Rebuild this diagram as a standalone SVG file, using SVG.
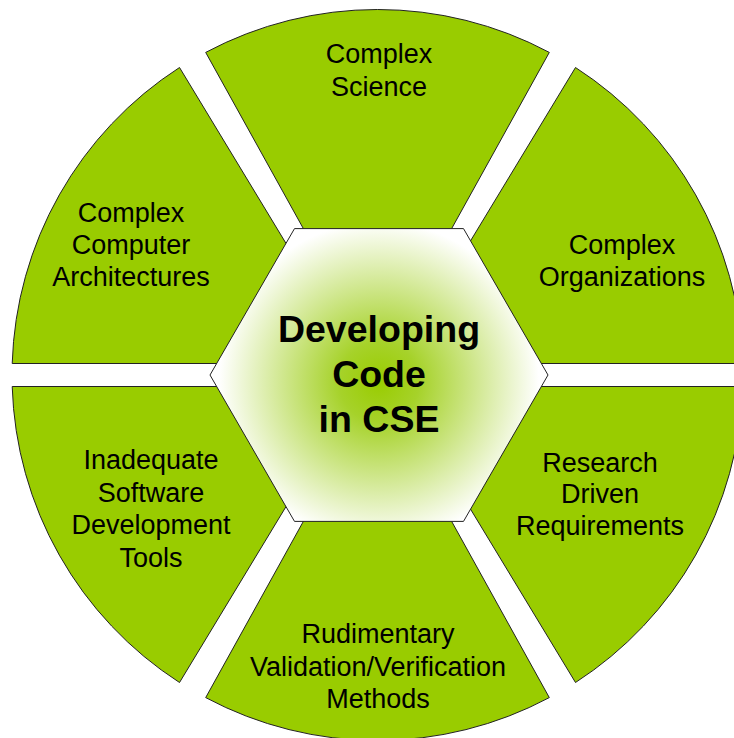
<svg xmlns="http://www.w3.org/2000/svg" width="734" height="738" viewBox="0 0 734 738">
<style>
.seg{fill:#99cc00;stroke:#222;stroke-width:1}
.lbl{font-family:"Liberation Sans",Arial,sans-serif;font-size:27px;fill:#000;text-anchor:middle}
.ctr{font-family:"Liberation Sans",Arial,sans-serif;font-size:37.5px;font-weight:bold;fill:#000;text-anchor:middle}
</style>
<defs>
<radialGradient id="hexGrad" gradientUnits="userSpaceOnUse" cx="379" cy="382" r="160">
<stop offset="0" stop-color="#99cc00"/>
<stop offset="0.25" stop-color="#a6d22a"/>
<stop offset="1" stop-color="#ffffff"/>
</radialGradient>
</defs>
<rect width="734" height="738" fill="#ffffff"/>
<g id="seg-complex-science">
<path class="seg" d="M307.9 236.8 L205.7 52.4 A365.5 365.5 0 0 1 549.3 52.4 L447.1 236.8 Z"/>
<text class="lbl" x="379" y="63">Complex</text>
<text class="lbl" x="379" y="96">Science</text>
</g>
<g id="seg-complex-organizations">
<path class="seg" d="M464.8 250.3 L575.5 67.5 A365.5 365.5 0 0 1 742.8 363.5 L530 363.5 Z"/>
<text class="lbl" x="622" y="253.5">Complex</text>
<text class="lbl" x="622" y="285.5">Organizations</text>
</g>
<g id="seg-research-driven">
<path class="seg" d="M530 386.5 L742.8 386.5 A365.5 365.5 0 0 1 575.5 682.5 L464.8 499.7 Z"/>
<text class="lbl" x="600" y="471.5">Research</text>
<text class="lbl" x="600" y="503">Driven</text>
<text class="lbl" x="600" y="534.5">Requirements</text>
</g>
<g id="seg-rudimentary">
<path class="seg" d="M447.1 513.2 L549.3 697.6 A365.5 365.5 0 0 1 205.7 697.6 L307.9 513.2 Z"/>
<text class="lbl" x="378" y="643">Rudimentary</text>
<text class="lbl" x="378" y="676">Validation/Verification</text>
<text class="lbl" x="378" y="708">Methods</text>
</g>
<g id="seg-inadequate-tools">
<path class="seg" d="M290.2 499.7 L179.5 682.5 A365.5 365.5 0 0 1 12.2 386.5 L225 386.5 Z"/>
<text class="lbl" x="151" y="469">Inadequate</text>
<text class="lbl" x="151" y="501.5">Software</text>
<text class="lbl" x="151" y="534">Development</text>
<text class="lbl" x="151" y="566.5">Tools</text>
</g>
<g id="seg-complex-architectures">
<path class="seg" d="M225 363.5 L12.2 363.5 A365.5 365.5 0 0 1 179.5 67.5 L290.2 250.3 Z"/>
<text class="lbl" x="131" y="222">Complex</text>
<text class="lbl" x="131" y="254">Computer</text>
<text class="lbl" x="131" y="286">Architectures</text>
</g>
<g id="center-hexagon">
<polygon points="548,375 463.5,228.6 294.5,228.6 210,375 294.5,521.4 463.5,521.4" fill="url(#hexGrad)" stroke="#222" stroke-width="1"/>
<text class="ctr" x="379" y="342">Developing</text>
<text class="ctr" x="379" y="387">Code</text>
<text class="ctr" x="379" y="432">in CSE</text>
</g>
</svg>
